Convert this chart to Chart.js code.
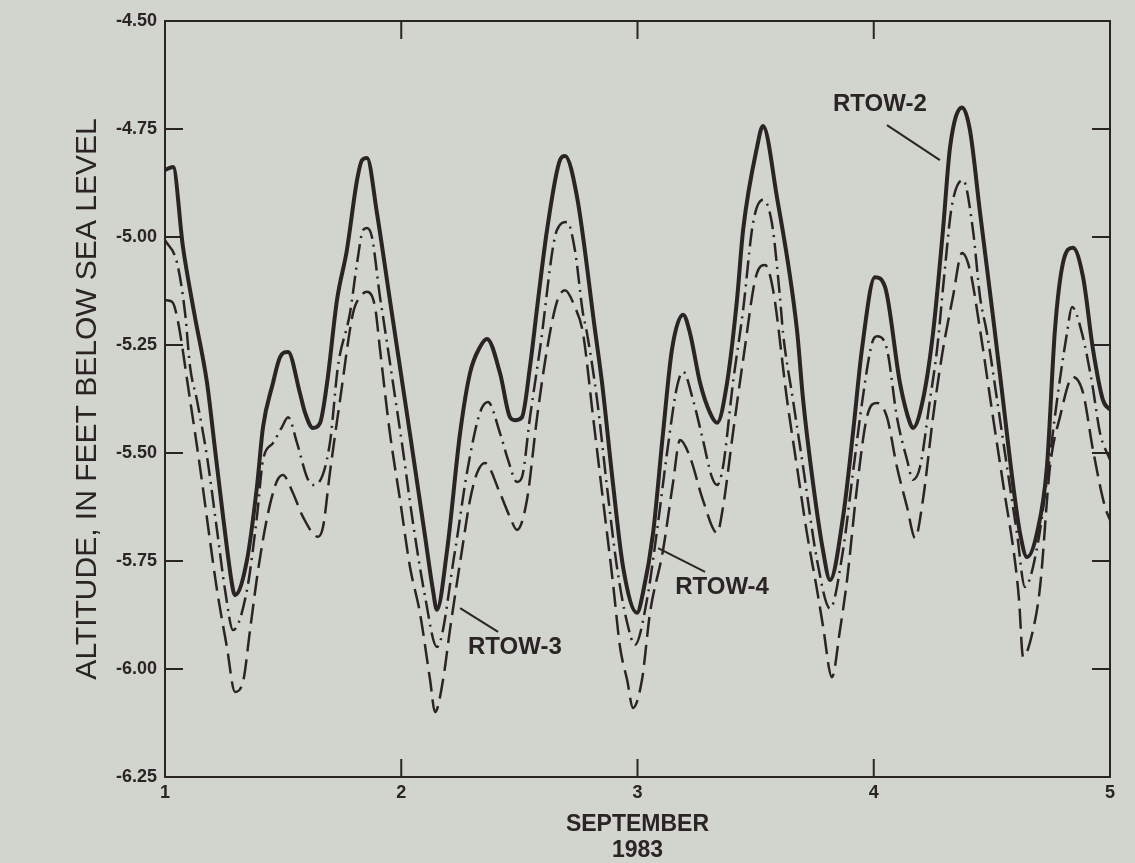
<!DOCTYPE html>
<html>
<head>
<meta charset="utf-8">
<title>RTOW wells - September 1983</title>
<script src="https://cdn.jsdelivr.net/npm/chart.js@4.4.1/dist/chart.umd.min.js"></script>
<style>
    html, body { margin: 0; padding: 0; background: #d2d4ce; }
    #wrap { width: 1135px; height: 863px; }
</style>
</head>
<body>
<div id="wrap"><canvas id="levelChart" width="1135" height="863"></canvas></div>
<script>
// Axis ticks
const xTickValues = [1, 2, 3, 4, 5];
const yTickValues = [-4.5, -4.75, -5.0, -5.25, -5.5, -5.75, -6.0, -6.25];

// RTOW-2 (solid)
const rtow2Days = [1.000, 1.034, 1.076, 1.125, 1.178, 1.212, 1.246, 1.288, 1.296, 1.347, 1.389, 1.415, 1.457, 1.487, 1.521, 1.571, 1.593, 1.626, 1.656, 1.686, 1.728, 1.770, 1.813, 1.834, 1.855, 1.897, 1.952, 2.037, 2.100, 2.134, 2.151, 2.194, 2.249, 2.291, 2.333, 2.363, 2.418, 2.460, 2.481, 2.511, 2.545, 2.579, 2.617, 2.672, 2.693, 2.744, 2.820, 2.850, 2.896, 2.939, 2.998, 3.023, 3.066, 3.108, 3.146, 3.193, 3.222, 3.265, 3.307, 3.337, 3.379, 3.421, 3.447, 3.506, 3.531, 3.590, 3.675, 3.701, 3.743, 3.785, 3.815, 3.870, 3.912, 3.950, 4.005, 4.048, 4.111, 4.153, 4.166, 4.208, 4.251, 4.293, 4.323, 4.374, 4.407, 4.450, 4.505, 4.547, 4.589, 4.619, 4.649, 4.691, 4.733, 4.767, 4.801, 4.843, 4.886, 4.928, 4.970, 5.000];
const rtow2Alt = [-4.845, -4.838, -5.023, -5.18, -5.338, -5.493, -5.648, -5.817, -5.829, -5.748, -5.579, -5.44, -5.338, -5.278, -5.266, -5.361, -5.407, -5.442, -5.431, -5.338, -5.146, -5.03, -4.868, -4.822, -4.817, -4.944, -5.146, -5.456, -5.69, -5.817, -5.863, -5.725, -5.454, -5.315, -5.255, -5.236, -5.315, -5.417, -5.424, -5.417, -5.30, -5.146, -4.984, -4.822, -4.8125, -4.907, -5.215, -5.338, -5.57, -5.764, -5.87, -5.824, -5.685, -5.454, -5.26, -5.18, -5.222, -5.338, -5.407, -5.43, -5.338, -5.146, -4.984, -4.792, -4.743, -4.907, -5.215, -5.377, -5.57, -5.725, -5.794, -5.648, -5.454, -5.26, -5.093, -5.116, -5.338, -5.43, -5.442, -5.377, -5.222, -4.984, -4.792, -4.70, -4.752, -4.944, -5.185, -5.377, -5.57, -5.685, -5.741, -5.685, -5.532, -5.215, -5.06, -5.025, -5.093, -5.26, -5.377, -5.40];

// RTOW-4 (dash-dot)
const rtow4Days = [1.000, 1.051, 1.085, 1.106, 1.135, 1.178, 1.220, 1.255, 1.288, 1.347, 1.389, 1.415, 1.457, 1.495, 1.521, 1.559, 1.601, 1.626, 1.648, 1.698, 1.732, 1.783, 1.813, 1.838, 1.855, 1.876, 1.910, 1.923, 1.965, 2.007, 2.046, 2.100, 2.151, 2.228, 2.278, 2.333, 2.367, 2.418, 2.452, 2.490, 2.511, 2.545, 2.587, 2.659, 2.702, 2.735, 2.769, 2.786, 2.829, 2.871, 2.913, 2.955, 2.989, 3.040, 3.083, 3.125, 3.167, 3.193, 3.235, 3.277, 3.315, 3.337, 3.362, 3.404, 3.447, 3.489, 3.531, 3.569, 3.603, 3.616, 3.658, 3.701, 3.760, 3.815, 3.870, 3.912, 3.954, 3.993, 4.014, 4.056, 4.098, 4.141, 4.166, 4.196, 4.238, 4.268, 4.300, 4.330, 4.378, 4.420, 4.450, 4.479, 4.522, 4.564, 4.606, 4.640, 4.691, 4.733, 4.776, 4.818, 4.839, 4.881, 4.924, 4.958, 5.000];
const rtow4Alt = [-5.007, -5.06, -5.176, -5.30, -5.377, -5.509, -5.678, -5.82, -5.91, -5.817, -5.648, -5.516, -5.477, -5.44, -5.417, -5.477, -5.556, -5.574, -5.57, -5.477, -5.30, -5.176, -5.06, -4.984, -4.979, -5.0, -5.139, -5.185, -5.338, -5.493, -5.648, -5.83, -5.949, -5.725, -5.546, -5.407, -5.382, -5.454, -5.516, -5.567, -5.556, -5.417, -5.26, -4.984, -4.965, -5.03, -5.176, -5.222, -5.377, -5.579, -5.764, -5.89, -5.944, -5.84, -5.678, -5.5, -5.347, -5.312, -5.377, -5.47, -5.556, -5.574, -5.532, -5.338, -5.169, -4.968, -4.914, -4.968, -5.139, -5.222, -5.377, -5.532, -5.748, -5.86, -5.725, -5.546, -5.37, -5.245, -5.23, -5.26, -5.417, -5.516, -5.562, -5.532, -5.377, -5.26, -5.08, -4.93, -4.868, -4.984, -5.139, -5.222, -5.377, -5.532, -5.685, -5.81, -5.72, -5.562, -5.377, -5.222, -5.162, -5.222, -5.338, -5.454, -5.516];

// RTOW-3 (dashed)
const rtow3Days = [1.000, 1.030, 1.051, 1.106, 1.148, 1.190, 1.220, 1.262, 1.296, 1.330, 1.360, 1.389, 1.415, 1.444, 1.474, 1.499, 1.542, 1.584, 1.648, 1.669, 1.698, 1.741, 1.796, 1.825, 1.855, 1.889, 1.910, 1.952, 1.995, 2.037, 2.079, 2.122, 2.143, 2.177, 2.206, 2.257, 2.291, 2.321, 2.354, 2.418, 2.460, 2.490, 2.532, 2.575, 2.617, 2.659, 2.693, 2.735, 2.769, 2.812, 2.854, 2.896, 2.926, 2.956, 2.981, 3.019, 3.053, 3.108, 3.150, 3.180, 3.222, 3.277, 3.337, 3.362, 3.404, 3.447, 3.506, 3.540, 3.574, 3.633, 3.675, 3.717, 3.760, 3.785, 3.823, 3.857, 3.887, 3.929, 3.971, 4.014, 4.056, 4.098, 4.141, 4.175, 4.208, 4.251, 4.290, 4.335, 4.374, 4.407, 4.450, 4.500, 4.550, 4.600, 4.615, 4.632, 4.674, 4.704, 4.746, 4.788, 4.843, 4.886, 4.928, 4.979, 5.000];
const rtow3Alt = [-5.146, -5.15, -5.185, -5.377, -5.532, -5.701, -5.817, -5.949, -6.053, -6.03, -5.91, -5.79, -5.70, -5.62, -5.565, -5.551, -5.593, -5.648, -5.694, -5.671, -5.546, -5.377, -5.176, -5.139, -5.127, -5.162, -5.26, -5.454, -5.609, -5.764, -5.87, -6.025, -6.10, -6.025, -5.91, -5.725, -5.609, -5.546, -5.523, -5.593, -5.648, -5.678, -5.609, -5.417, -5.26, -5.15, -5.123, -5.162, -5.222, -5.417, -5.609, -5.80, -5.949, -6.025, -6.09, -6.025, -5.87, -5.725, -5.57, -5.47, -5.509, -5.609, -5.685, -5.625, -5.454, -5.285, -5.083, -5.065, -5.123, -5.377, -5.532, -5.685, -5.817, -5.90, -6.019, -5.91, -5.794, -5.58, -5.417, -5.384, -5.417, -5.532, -5.625, -5.697, -5.609, -5.417, -5.27, -5.139, -5.037, -5.076, -5.215, -5.40, -5.58, -5.76, -5.84, -5.972, -5.91, -5.81, -5.532, -5.417, -5.324, -5.361, -5.493, -5.625, -5.655];

const ink = "#2a2424";
const fontFamily = "'Liberation Sans', Arial, Helvetica, sans-serif";

// Well names with leader lines, in data units
const wellLabels = [
    { text: "RTOW-2", at: [4.026, -4.694], from: [4.056, -4.741], to: [4.280, -4.822] },
    { text: "RTOW-4", at: [3.358, -5.81], from: [3.286, -5.775], to: [3.087, -5.72] },
    { text: "RTOW-3", at: [2.481, -5.951], from: [2.410, -5.914], to: [2.249, -5.859] }
];

function toPoints(days, alt) {
    return days.map((d, i) => ({ x: d, y: alt[i] }));
}

// Frame and inward tick marks
const framePlugin = {
    id: "frame",
    afterDatasetsDraw(chart) {
        const { ctx, chartArea: a, scales: { x, y } } = chart;
        const len = 18;
        ctx.save();
        ctx.strokeStyle = ink;
        ctx.lineWidth = 2;
        ctx.strokeRect(a.left, a.top, a.right - a.left, a.bottom - a.top);
        ctx.beginPath();
        y.ticks.forEach(t => {
            const py = y.getPixelForValue(t.value);
            if (py <= a.top + 1 || py >= a.bottom - 1) return;
            ctx.moveTo(a.left, py); ctx.lineTo(a.left + len, py);
            ctx.moveTo(a.right, py); ctx.lineTo(a.right - len, py);
        });
        x.ticks.forEach(t => {
            const px = x.getPixelForValue(t.value);
            if (px <= a.left + 1 || px >= a.right - 1) return;
            ctx.moveTo(px, a.bottom); ctx.lineTo(px, a.bottom - len);
            ctx.moveTo(px, a.top); ctx.lineTo(px, a.top + len);
        });
        ctx.stroke();
        ctx.restore();
    }
};

// Well names
const labelPlugin = {
    id: "wellLabels",
    afterDatasetsDraw(chart) {
        const { ctx, scales: { x, y } } = chart;
        ctx.save();
        ctx.strokeStyle = ink;
        ctx.fillStyle = ink;
        ctx.lineWidth = 2;
        ctx.font = "bold 24px " + fontFamily;
        ctx.textAlign = "center";
        ctx.textBaseline = "middle";
        wellLabels.forEach(l => {
            ctx.beginPath();
            ctx.moveTo(x.getPixelForValue(l.from[0]), y.getPixelForValue(l.from[1]));
            ctx.lineTo(x.getPixelForValue(l.to[0]), y.getPixelForValue(l.to[1]));
            ctx.stroke();
            ctx.fillText(l.text, x.getPixelForValue(l.at[0]), y.getPixelForValue(l.at[1]));
        });
        ctx.restore();
    }
};

Chart.defaults.font.family = fontFamily;
Chart.defaults.color = ink;

new Chart(document.getElementById("levelChart"), {
    type: "line",
    data: {
        datasets: [
            { label: "RTOW-2", data: toPoints(rtow2Days, rtow2Alt), borderColor: ink, borderWidth: 4 },
            { label: "RTOW-4", data: toPoints(rtow4Days, rtow4Alt), borderColor: ink, borderWidth: 2.5, borderDash: [18, 6, 2, 6] },
            { label: "RTOW-3", data: toPoints(rtow3Days, rtow3Alt), borderColor: ink, borderWidth: 2.5, borderDash: [20, 8] }
        ]
    },
    options: {
        responsive: false,
        animation: false,
        events: [],
        layout: { padding: { left: 70, right: 25, top: 21, bottom: 0 } },
        elements: {
            point: { radius: 0 },
            line: { cubicInterpolationMode: "monotone", borderJoinStyle: "round", fill: false }
        },
        plugins: { legend: { display: false }, tooltip: { enabled: false } },
        scales: {
            x: {
                type: "linear",
                min: 1,
                max: 5,
                afterBuildTicks: s => { s.ticks = xTickValues.map(v => ({ value: v })); },
                afterFit: s => { s.height = 86; },
                grid: { display: false, drawTicks: false },
                border: { display: false },
                ticks: { padding: 5, font: { size: 18, weight: "bold" }, callback: v => String(v) },
                title: {
                    display: true,
                    text: ["SEPTEMBER", "1983"],
                    font: { size: 23, weight: "bold", lineHeight: 1.1 },
                    padding: { top: 0, bottom: 0 }
                }
            },
            y: {
                min: -6.25,
                max: -4.5,
                afterBuildTicks: s => { s.ticks = yTickValues.map(v => ({ value: v })); },
                afterFit: s => { s.width = 95; },
                grid: { display: false, drawTicks: false },
                border: { display: false },
                ticks: { padding: 8, font: { size: 18, weight: "bold" }, callback: v => v.toFixed(2) },
                title: {
                    display: true,
                    text: "ALTITUDE, IN FEET BELOW SEA LEVEL",
                    font: { size: 30, weight: "normal", lineHeight: 1.2 },
                    padding: { top: 0, bottom: 0 }
                }
            }
        }
    },
    plugins: [framePlugin, labelPlugin]
});
</script>
</body>
</html>
